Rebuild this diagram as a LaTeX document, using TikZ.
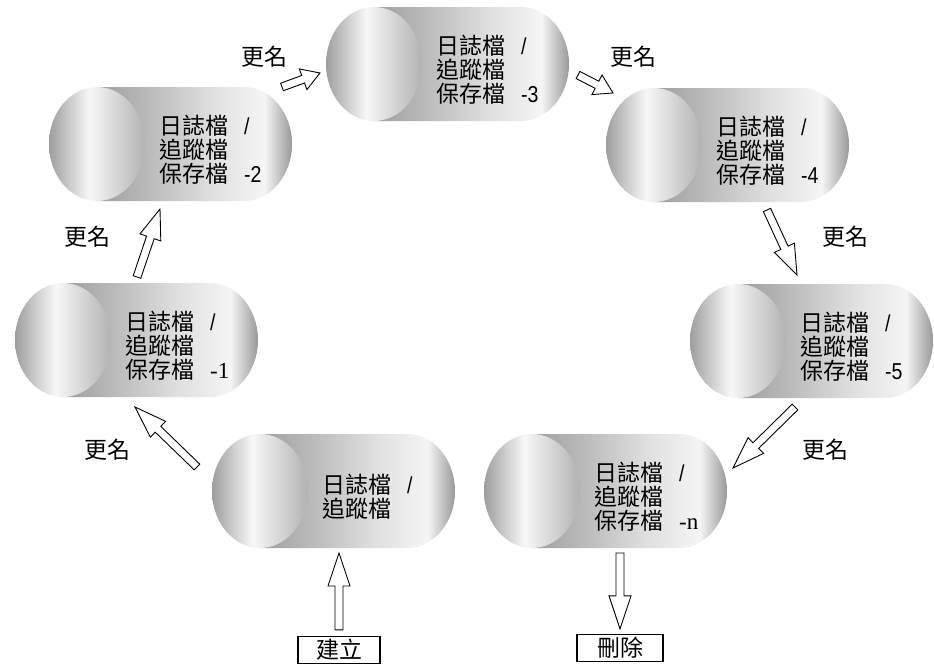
\documentclass[tikz,border=0pt]{standalone}
\usepackage{fontspec}
\setmainfont{Noto Sans CJK TC}
\newfontfamily\numsans[FakeStretch=0.85]{Liberation Sans}
\newfontfamily\numserif{Liberation Serif}
\usetikzlibrary{calc}
\pgfdeclarehorizontalshading{cylend}{100bp}{rgb(0bp)=(.62,.62,.62); rgb(25bp)=(.62,.62,.62); rgb(46bp)=(.97,.97,.97); rgb(75bp)=(.70,.70,.70); rgb(100bp)=(.70,.70,.70)}
\pgfdeclarehorizontalshading{cylbody}{100bp}{rgb(0bp)=(.62,.62,.62); rgb(25bp)=(.62,.62,.62); rgb(37bp)=(.72,.72,.72); rgb(55bp)=(.88,.88,.88); rgb(68bp)=(.96,.96,.96); rgb(75bp)=(.60,.60,.60); rgb(100bp)=(.60,.60,.60)}
\tikzset{
  lbl/.style={font=\fontsize{23}{24}\selectfont, inner sep=0},
  ftext/.style={font=\fontsize{23}{24}\selectfont, align=left, inner sep=0, anchor=west},
  blk/.style={draw=black, line width=0.9pt, fill=white, line join=miter},
  btn/.style={draw=black, line width=1.2pt, inner sep=0, minimum height=27pt, font=\fontsize{23}{24}\selectfont}
}
\newcommand\cylshape[4]{%
  \shade[shading=cylbody] (#2+48,-#3) -- (#2+195,-#3) arc[start angle=90,end angle=-90,x radius=48,y radius=57] -- (#2+48,-#3-114) -- cycle;
  \shade[shading=cylend] (#2+48,-#3-57) ellipse[x radius=48,y radius=57];
  \node[ftext] (#1) at (#2+110,-#3-63) {#4};
}
\newcommand\blockarrow[3][26]{%
  \coordinate (hb) at ($(#3)!#1pt!(#2)$);
  \draw[blk] ($(#2)!4pt!90:(#3)$) -- ($(hb)!4pt!90:(#3)$) -- ($(hb)!11pt!90:(#3)$) -- (#3) -- ($(hb)!11pt!-90:(#3)$) -- ($(hb)!4pt!-90:(#3)$) -- ($(#2)!4pt!-90:(#3)$) -- cycle;
}
\newcommand\gap{\hspace{16pt}}
\begin{document}
\begin{tikzpicture}[x=1pt,y=1pt]
\fill[white] (0,0) rectangle (934,-664);
\useasboundingbox (0,0) rectangle (934,-664);
% cylinders
\cylshape{f3}{326}{7}{日誌檔\gap{\numsans /}\\追蹤檔\\保存檔\gap{\numsans -3}}
\cylshape{f2}{49}{87}{日誌檔\gap{\numsans /}\\追蹤檔\\保存檔\gap{\numsans -2}}
\cylshape{f4}{606}{88}{日誌檔\gap{\numsans /}\\追蹤檔\\保存檔\gap{\numsans -4}}
\cylshape{f1}{15}{283}{日誌檔\gap{\numsans /}\\追蹤檔\\保存檔\gap{\numserif -1}}
\cylshape{f5}{690}{284}{日誌檔\gap{\numsans /}\\追蹤檔\\保存檔\gap{\numsans -5}}
\cylshape{f0}{212}{434}{日誌檔\gap{\numsans /}\\追蹤檔}
\cylshape{fn}{484}{434}{日誌檔\gap{\numsans /}\\追蹤檔\\保存檔\gap{\numserif -n}}
% labels
\node[lbl] (r01) at (107,-450) {更名};
\node[lbl] (r12) at (87,-237) {更名};
\node[lbl] (r23) at (264,-57) {更名};
\node[lbl] (r34) at (633,-57) {更名};
\node[lbl] (r45) at (845,-237) {更名};
\node[lbl] (r5n) at (825,-450) {更名};
% boxes
\node[btn, minimum width=82pt] (mk) at (339,-650) {建立};
\node[btn, minimum width=86pt] (del) at (620,-648) {刪除};
% arrow end points
\coordinate (t01) at (197,-467); \coordinate (h01) at (135,-407);
\coordinate (t12) at (137,-277); \coordinate (h12) at (160,-209);
\coordinate (t23) at (282,-87);  \coordinate (h23) at (320,-73);
\coordinate (t34) at (578,-75);  \coordinate (h34) at (613,-93);
\coordinate (t45) at (767,-210); \coordinate (h45) at (797,-275);
\coordinate (t5n) at (795,-407); \coordinate (h5n) at (733,-468);
\coordinate (tup) at ($(mk.north)+(0,6)$); \coordinate (hup) at (339,-553);
\coordinate (tdn) at (620,-553); \coordinate (hdn) at ($(del.north)+(0,5)$);
% arrows
\blockarrow[32]{t01}{h01}
\blockarrow[30]{t12}{h12}
\blockarrow[18]{t23}{h23}
\blockarrow[18]{t34}{h34}
\blockarrow[30]{t45}{h45}
\blockarrow[32]{t5n}{h5n}
\blockarrow[33]{tup}{hup}
\blockarrow[33]{tdn}{hdn}
\end{tikzpicture}
\end{document}
